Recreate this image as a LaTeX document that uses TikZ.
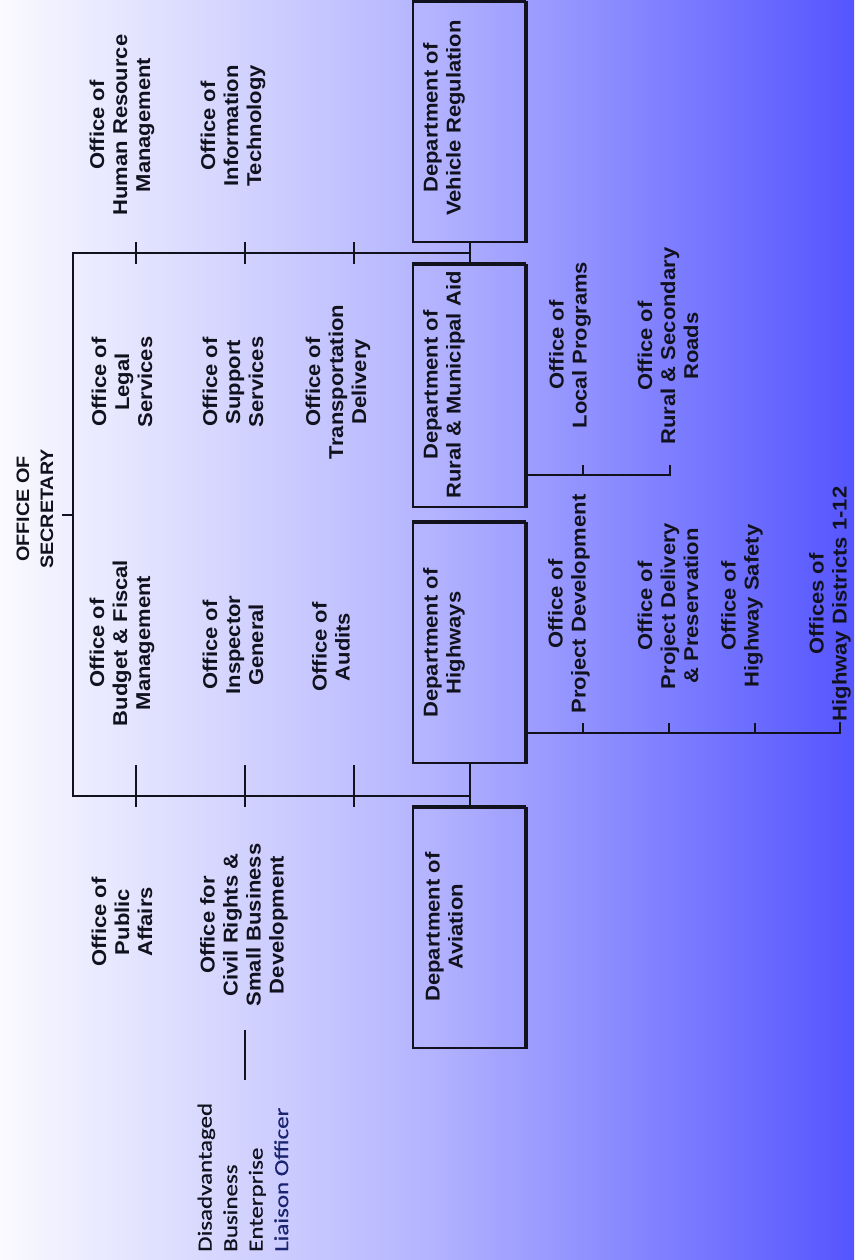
\documentclass[tikz,border=0pt]{standalone}
\usepackage{fontspec}
\newfontfamily\arialf{Liberation Sans}[FakeStretch=1.1]
\newfontfamily\calf{Carlito}[FakeStretch=1.25,FakeBold=0.6]
\usetikzlibrary{calc}
\definecolor{bgA}{RGB}{250,250,255}
\definecolor{bgB}{RGB}{180,180,255}
\definecolor{bgC}{RGB}{85,85,255}
\definecolor{ink}{RGB}{18,18,30}
\definecolor{dbeblue}{RGB}{25,35,110}
\begin{document}
\begin{tikzpicture}[x=1pt,y=-1pt,
  lbl/.style={rotate=90, align=center, text=ink, inner sep=0pt,
    font=\arialf\bfseries\fontsize{20}{23}\selectfont},
  dept/.style={draw=ink, line width=2pt, minimum width=112pt, inner sep=0pt},
  conn/.style={draw=ink, line width=1.6pt},
  tick/.style={draw=ink, line width=1.6pt}]
\fill[left color=bgA, right color=bgC, middle color=bgB] (0,0) rectangle (854,1260);
\useasboundingbox (0,0) rectangle (854,1260);

% department boxes
\node[dept, minimum height=240pt] (vr) at (469,122) {};
\node[dept, minimum height=242pt] (rm) at (469,386) {};
\node[dept, minimum height=240pt] (hw) at (469,643) {};
\node[dept, minimum height=240pt] (av) at (469,928) {};
\foreach \b in {vr,rm,hw,av}{
  \draw[ink, line width=3.5pt] (\b.north west) -- (\b.north east);
  \draw[ink, line width=4.5pt] (\b.north east) -- (\b.south east);
}
\node[lbl] (vrt) at (444,118) {Department of\\Vehicle Regulation};
\node[lbl] (rmt) at (444,385) {Department of\\Rural \& Municipal Aid};
\node[lbl] (hwt) at (444,643) {Department of\\Highways};
\node[lbl] (avt) at (444,927) {Department of\\Aviation};

% secretary
\node[lbl, font=\arialf\bfseries\fontsize{18}{24}\selectfont] (sec) at (35,509) {OFFICE OF\\SECRETARY};

% staff offices
\node[lbl] (hr) at (122,125) {Office of\\Human Resource\\Management};
\node[lbl] (it) at (233,126) {Office of\\Information\\Technology};
\node[lbl] (legal) at (122,382) {Office of\\Legal\\Services};
\node[lbl] (supp) at (233,382) {Office of\\Support\\Services};
\node[lbl] (trans) at (338,382) {Office of\\Transportation\\Delivery};
\node[lbl] (budget) at (122,643) {Office of\\Budget \& Fiscal\\Management};
\node[lbl] (insp) at (233,645) {Office of\\Inspector\\General};
\node[lbl] (audit) at (331,647) {Office of\\Audits};
\node[lbl] (pa) at (122,922) {Office of\\Public\\Affairs};
\node[lbl] (cr) at (244,925) {Office for\\Civil Rights \&\\Small Business\\Development};

\node[rotate=90, anchor=west, align=left, inner sep=0pt, text=ink,
  font=\calf\fontsize{20}{25.5}\selectfont] (dbe) at (243,1252)
  {Disadvantaged\\Business\\Enterprise\\\textcolor{dbeblue}{Liaison Officer}};

% sub offices
\node[lbl] (pd) at (569,604) {Office of\\Project Development};
\node[lbl] (pdp) at (668,606) {Office of\\Project Delivery\\\& Preservation};
\node[lbl] (hs) at (742,606) {Office of\\Highway Safety};
\node[lbl] (hd) at (830,604) {Offices of\\Highway Districts 1-12};
\node[lbl] (lp) at (570,345) {Office of\\Local Programs};
\node[lbl] (rsr) at (668,346) {Office of\\Rural \& Secondary\\Roads};

% spine
\coordinate (sT) at (73,253);
\coordinate (sB) at (73,796);
\coordinate (tb) at (470,253);
\coordinate (bb) at (470,796);
\coordinate (secT) at (62,515);
\draw[conn] (secT) -- (secT -| sT);
\draw[conn, line join=miter] (tb) -- (sT) -- (sB) -- (bb);
\draw[conn] (tb |- vr.south) -- (tb |- rm.north);
\draw[conn] (bb |- hw.south) -- (bb |- av.north);
\foreach \x in {136,245,354}{
  \draw[tick] (\x,242) -- (\x,264);
  \draw[tick] (\x,765) -- (\x,807);
}

% DBE link
\coordinate (dbeA) at (245,1030);
\coordinate (dbeB) at (245,1080);
\draw[conn] (dbeA) -- (dbeB);

% rural sub-line
\coordinate (rmE) at (670,475);
\draw[conn, line join=miter] (rm.east |- rmE) -- (rmE) -- ++(0,-10);
\draw[tick] (583,475) -- (583,465);

% highways sub-line
\coordinate (hwE) at (840,733);
\draw[conn, line join=miter] (hw.east |- hwE) -- (hwE) -- ++(0,-11);
\foreach \x in {583,669,755}{
  \draw[tick] (\x,733) -- (\x,723);
}
\end{tikzpicture}
\end{document}
